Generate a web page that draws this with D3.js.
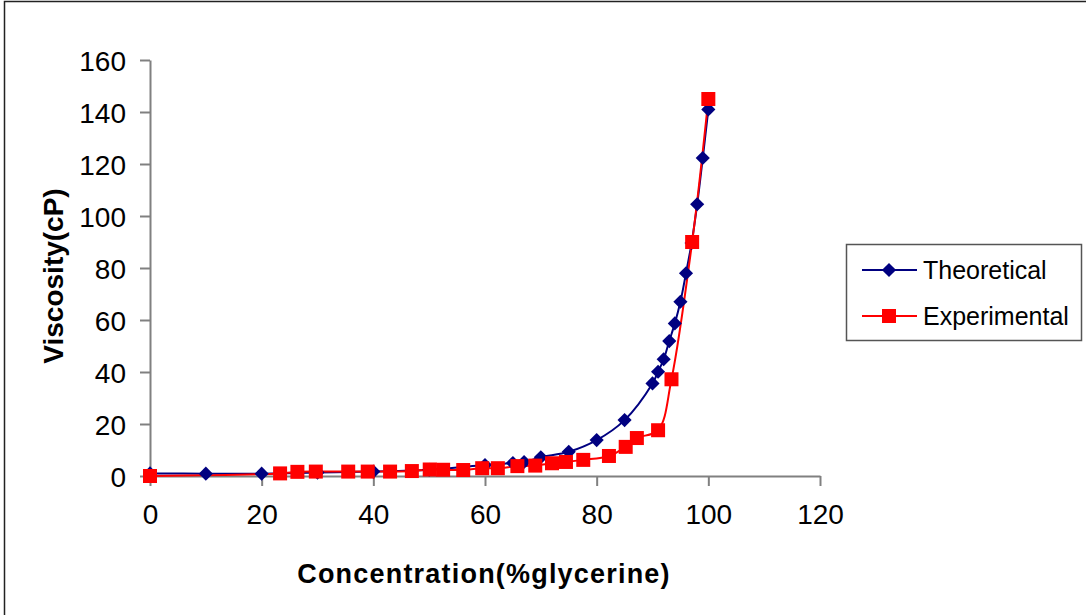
<!DOCTYPE html>
<html><head><meta charset="utf-8">
<script src="https://cdn.jsdelivr.net/npm/d3@7"></script>
<style>
html,body{margin:0;padding:0;background:#fff;}
svg{display:block;font-family:"Liberation Sans",Arial,sans-serif;}
</style></head>
<body>
<svg id="chart" width="1086" height="615"></svg>
<script>
// Data
const theoConc = [0,10,20,30,40,50,60,65,67,70,75,80,85,90,91,92,93,94,95,96,97,98,99,100];
const theoVisc = [1.0,0.9,0.9,1.3,1.7,2.4,4.2,5.0,5.4,7.2,9.3,13.8,21.5,35.6,40.1,44.9,51.9,58.7,67,78,89.6,104.5,122.3,141];
const expConc = [0,23.3,26.4,29.7,35.5,39,43,46.9,50.1,52.5,56.1,59.5,62.3,65.8,69,72,74.5,77.6,82.2,85.2,87.2,91,93.4,97.1,100];
const expVisc = [0,1.0,1.6,1.7,1.7,1.7,1.7,1.9,2.5,2.4,2.3,3.0,3.0,3.8,4.0,4.9,5.4,6.2,7.7,11.2,14.6,17.6,37.2,90,145];
const xTicks = [0,20,40,60,80,100,120];
const yTicks = [0,20,40,60,80,100,120,140,160];
const seriesNames = ["Theoretical","Experimental"];
const seriesColors = ["#000080","#ff0000"];
const xTitle = "Concentration(%glycerine)";
const yTitle = "Viscosity(cP)";

const svg = d3.select("#chart");
// outer frame
svg.append("rect").attr("x",4.5).attr("y",1.5).attr("width",1200).attr("height",700)
  .attr("fill","none").attr("stroke","#222").attr("stroke-width",1.5);

const x = d3.scaleLinear().domain([0,120]).range([150,820]);
const y = d3.scaleLinear().domain([0,160]).range([476,60]);

const axisColor = "#808080";
const gx = svg.append("g").attr("transform","translate(0,476)")
  .call(d3.axisBottom(x).tickValues(xTicks).tickSize(10).tickSizeOuter(0).tickPadding(14).tickFormat(d3.format("d")));
const gy = svg.append("g").attr("transform","translate(150,0)")
  .call(d3.axisLeft(y).tickValues(yTicks).tickSize(10).tickSizeOuter(0).tickPadding(14).tickFormat(d3.format("d")));
[gx,gy].forEach(g=>{
  g.select(".domain").attr("stroke",axisColor).attr("stroke-width",2);
  g.selectAll(".tick line").attr("stroke",axisColor).attr("stroke-width",2);
  g.selectAll(".tick text").attr("fill","#000").style("font-size","28px").style("font-family","'Liberation Sans',Arial,sans-serif");
});
gx.selectAll(".tick text").attr("dy","0.85em");
gy.selectAll(".tick text").attr("dy","0.36em");

svg.append("text").attr("x",484).attr("y",583).attr("text-anchor","middle")
  .style("font-size","27px").style("font-weight","bold").style("letter-spacing","1.2px").text(xTitle);
svg.append("text").attr("transform","translate(63,276) rotate(-90)").attr("text-anchor","middle")
  .style("font-size","28px").style("font-weight","bold").text(yTitle);

const line = d3.line().x(d=>x(d[0])).y(d=>y(d[1])).curve(d3.curveCatmullRom.alpha(0.5));
const theo = theoConc.map((c,i)=>[c,theoVisc[i]]);
const exp = expConc.map((c,i)=>[c,expVisc[i]]);

svg.append("path").datum(theo).attr("d",line).attr("fill","none").attr("stroke",seriesColors[0]).attr("stroke-width",2);
svg.append("path").datum(exp).attr("d",line).attr("fill","none").attr("stroke",seriesColors[1]).attr("stroke-width",2);

const diamond = d3.symbol().type(d3.symbolSquare).size(100);
svg.append("g").selectAll("path").data(theo).join("path")
  .attr("d",diamond()).attr("fill",seriesColors[0])
  .attr("transform",d=>`translate(${x(d[0])},${y(d[1])}) rotate(45)`);
svg.append("g").selectAll("rect").data(exp).join("rect")
  .attr("x",d=>x(d[0])-7).attr("y",d=>y(d[1])-7).attr("width",14).attr("height",14)
  .attr("fill",seriesColors[1]);

const lg = svg.append("g");
lg.append("rect").attr("x",846.5).attr("y",244.5).attr("width",235).attr("height",96)
  .attr("fill","#fff").attr("stroke","#555").attr("stroke-width",1.5);
const ly = [270,316];
seriesNames.forEach((n,i)=>{
  lg.append("line").attr("x1",862).attr("x2",917).attr("y1",ly[i]).attr("y2",ly[i])
    .attr("stroke",seriesColors[i]).attr("stroke-width",2);
  if(i===0){
    lg.append("path").attr("d",diamond()).attr("fill",seriesColors[0])
      .attr("transform",`translate(889,${ly[i]}) rotate(45)`);
  } else {
    lg.append("rect").attr("x",882).attr("y",ly[i]-7).attr("width",14).attr("height",14).attr("fill",seriesColors[1]);
  }
  lg.append("text").attr("x",923).attr("y",ly[i]).attr("dy","0.36em")
    .style("font-size","25px").text(n);
});
</script>
</body></html>
